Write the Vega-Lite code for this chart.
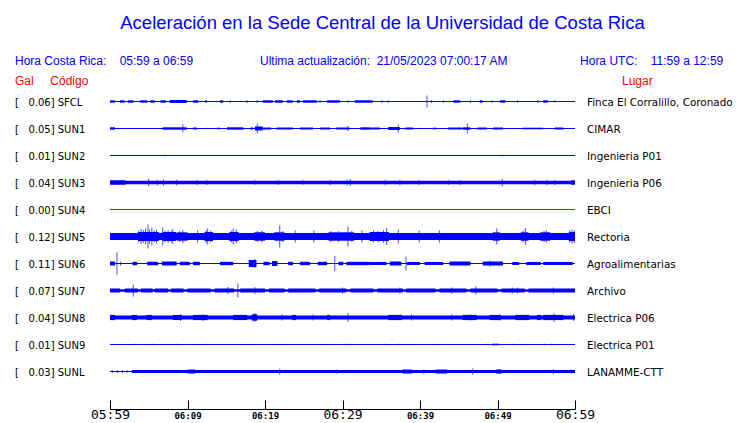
{
  "$schema": "https://vega.github.io/schema/vega-lite/v6.json",
  "width": 465,
  "height": 351,
  "autosize": "none",
  "padding": {"left": 110, "top": 34, "right": 165, "bottom": 38},
  "config": {"view": {"stroke": null}, "axisY": {"disable": true}},
  "title": {"text": "Aceleración en la Sede Central de la Universidad de Costa Rica", "font": "Liberation Sans", "fontSize": 18.5, "fontWeight": "normal", "color": "#0000ff", "anchor": "middle", "frame": "group", "dx": 40, "baseline": "alphabetic", "offset": -13},
  "datasets": {
    "stations": [
      {"s": "SFCL", "lab": "[\u00a0\u00a0\u00a00.06]\u00a0SFCL", "lugar": "Finca El Corralillo, Coronado"},
      {"s": "SUN1", "lab": "[\u00a0\u00a0\u00a00.05]\u00a0SUN1", "lugar": "CIMAR"},
      {"s": "SUN2", "lab": "[\u00a0\u00a0\u00a00.01]\u00a0SUN2", "lugar": "Ingenieria P01"},
      {"s": "SUN3", "lab": "[\u00a0\u00a0\u00a00.04]\u00a0SUN3", "lugar": "Ingenieria P06"},
      {"s": "SUN4", "lab": "[\u00a0\u00a0\u00a00.00]\u00a0SUN4", "lugar": "EBCI"},
      {"s": "SUN5", "lab": "[\u00a0\u00a0\u00a00.12]\u00a0SUN5", "lugar": "Rectoria"},
      {"s": "SUN6", "lab": "[\u00a0\u00a0\u00a00.11]\u00a0SUN6", "lugar": "Agroalimentarias"},
      {"s": "SUN7", "lab": "[\u00a0\u00a0\u00a00.07]\u00a0SUN7", "lugar": "Archivo"},
      {"s": "SUN8", "lab": "[\u00a0\u00a0\u00a00.04]\u00a0SUN8", "lugar": "Electrica P06"},
      {"s": "SUN9", "lab": "[\u00a0\u00a0\u00a00.01]\u00a0SUN9", "lugar": "Electrica P01"},
      {"s": "SUNL", "lab": "[\u00a0\u00a0\u00a00.03]\u00a0SUNL", "lugar": "LANAMME-CTT"}
    ],
    "bursts": [
      {"s":"SFCL","t":0,"t2":0.65,"a":0.012},{"s":"SFCL","t":1.3,"t2":1.9,"a":0.012},{"s":"SFCL","t":2.3,"t2":3.0,"a":0.012},{"s":"SFCL","t":3.9,"t2":4.8,"a":0.012},{"s":"SFCL","t":5.2,"t2":5.8,"a":0.012},{"s":"SFCL","t":6.5,"t2":7.2,"a":0.012},{"s":"SFCL","t":7.7,"t2":9.9,"a":0.015},{"s":"SFCL","t":10.7,"t2":11.4,"a":0.012},{"s":"SFCL","t":12.3,"t2":12.5,"a":0.012},{"s":"SFCL","t":14.2,"t2":14.6,"a":0.012},{"s":"SFCL","t":19.7,"t2":21.0,"a":0.012},{"s":"SFCL","t":21.3,"t2":22.3,"a":0.012},{"s":"SFCL","t":22.8,"t2":23.6,"a":0.012},{"s":"SFCL","t":24.1,"t2":24.5,"a":0.012},{"s":"SFCL","t":24.9,"t2":26.7,"a":0.012},{"s":"SFCL","t":28.0,"t2":29.7,"a":0.012},{"s":"SFCL","t":31.6,"t2":33.9,"a":0.012},{"s":"SFCL","t":44.3,"t2":45.2,"a":0.012},{"s":"SFCL","t":47.7,"t2":48.1,"a":0.012},{"s":"SFCL","t":50.3,"t2":51.0,"a":0.012},{"s":"SFCL","t":55.9,"t2":56.5,"a":0.012},
      {"s":"SUN1","t":0,"t2":0.65,"a":0.012},{"s":"SUN1","t":6.8,"t2":9.9,"a":0.012},{"s":"SUN1","t":10.7,"t2":11.2,"a":0.01},{"s":"SUN1","t":13.8,"t2":14.2,"a":0.008},{"s":"SUN1","t":15.1,"t2":17.2,"a":0.012},{"s":"SUN1","t":18.1,"t2":18.5,"a":0.01},{"s":"SUN1","t":18.7,"t2":19.7,"a":0.02},{"s":"SUN1","t":19.7,"t2":20.8,"a":0.01},{"s":"SUN1","t":21.5,"t2":23.6,"a":0.01},{"s":"SUN1","t":24.5,"t2":26.2,"a":0.01},{"s":"SUN1","t":27.1,"t2":28.4,"a":0.01},{"s":"SUN1","t":29.2,"t2":30.9,"a":0.01},{"s":"SUN1","t":32.3,"t2":33.5,"a":0.012},{"s":"SUN1","t":33.5,"t2":34.8,"a":0.01},{"s":"SUN1","t":35.9,"t2":37.4,"a":0.015},{"s":"SUN1","t":38.1,"t2":39.1,"a":0.01},{"s":"SUN1","t":41.7,"t2":42.2,"a":0.008},{"s":"SUN1","t":43.6,"t2":45.4,"a":0.01},{"s":"SUN1","t":45.5,"t2":46.5,"a":0.012},{"s":"SUN1","t":47.4,"t2":48.6,"a":0.01},{"s":"SUN1","t":49.4,"t2":50.7,"a":0.01},{"s":"SUN1","t":53.2,"t2":55.9,"a":0.008},{"s":"SUN1","t":57.4,"t2":58.5,"a":0.01},
      {"s":"SUN2","t":50.4,"t2":50.8,"a":0.006},
      {"s":"SUN3","t":0,"t2":60,"a":0.018},{"s":"SUN3","t":0,"t2":2,"a":0.022},{"s":"SUN3","t":59.5,"t2":60,"a":0.022},
      {"s":"SUN5","t":0,"t2":60,"a":0.035},{"s":"SUN5","t":3.6,"t2":6.3,"a":0.045},{"s":"SUN5","t":6.8,"t2":8.5,"a":0.045},{"s":"SUN5","t":8.6,"t2":10.0,"a":0.042},{"s":"SUN5","t":12.2,"t2":13.3,"a":0.045},{"s":"SUN5","t":15.4,"t2":16.6,"a":0.045},{"s":"SUN5","t":18.6,"t2":20.0,"a":0.042},{"s":"SUN5","t":21.2,"t2":22.5,"a":0.042},{"s":"SUN5","t":28.2,"t2":31.5,"a":0.042},{"s":"SUN5","t":33.5,"t2":36.0,"a":0.045},{"s":"SUN5","t":49.4,"t2":50.3,"a":0.042},{"s":"SUN5","t":53.0,"t2":54.0,"a":0.042},{"s":"SUN5","t":55.5,"t2":56.8,"a":0.042},{"s":"SUN5","t":59.2,"t2":60,"a":0.045},
      {"s":"SUN6","t":0,"t2":0.65,"a":0.02},{"s":"SUN6","t":1.3,"t2":1.4,"a":0.017},{"s":"SUN6","t":2.9,"t2":3.5,"a":0.017},{"s":"SUN6","t":4.8,"t2":6.2,"a":0.017},{"s":"SUN6","t":6.7,"t2":8.6,"a":0.02},{"s":"SUN6","t":9.0,"t2":10.3,"a":0.017},{"s":"SUN6","t":10.7,"t2":11.6,"a":0.017},{"s":"SUN6","t":14.2,"t2":15.9,"a":0.017},{"s":"SUN6","t":17.9,"t2":18.9,"a":0.035},{"s":"SUN6","t":19.8,"t2":20.6,"a":0.017},{"s":"SUN6","t":20.9,"t2":21.6,"a":0.025},{"s":"SUN6","t":23.0,"t2":23.6,"a":0.017},{"s":"SUN6","t":24.5,"t2":25.8,"a":0.017},{"s":"SUN6","t":26.8,"t2":28.0,"a":0.017},{"s":"SUN6","t":29.5,"t2":30.1,"a":0.017},{"s":"SUN6","t":30.5,"t2":33.5,"a":0.017},{"s":"SUN6","t":33.5,"t2":35.7,"a":0.015},{"s":"SUN6","t":36.1,"t2":37.6,"a":0.02},{"s":"SUN6","t":38.3,"t2":40.0,"a":0.015},{"s":"SUN6","t":40.6,"t2":43.0,"a":0.015},{"s":"SUN6","t":43.8,"t2":46.5,"a":0.02},{"s":"SUN6","t":48.1,"t2":50.7,"a":0.02},{"s":"SUN6","t":51.9,"t2":52.8,"a":0.015},{"s":"SUN6","t":53.7,"t2":55.6,"a":0.015},{"s":"SUN6","t":55.9,"t2":59.7,"a":0.015},
      {"s":"SUN7","t":0,"t2":60,"a":0.012},{"s":"SUN7","t":0,"t2":1.3,"a":0.02},{"s":"SUN7","t":1.9,"t2":3.6,"a":0.02},{"s":"SUN7","t":4.0,"t2":5.5,"a":0.02},{"s":"SUN7","t":5.8,"t2":7.5,"a":0.02},{"s":"SUN7","t":7.9,"t2":9.5,"a":0.02},{"s":"SUN7","t":10.0,"t2":13.0,"a":0.02},{"s":"SUN7","t":13.5,"t2":16.0,"a":0.02},{"s":"SUN7","t":16.8,"t2":20.0,"a":0.02},{"s":"SUN7","t":20.5,"t2":22.5,"a":0.02},{"s":"SUN7","t":23.0,"t2":26.5,"a":0.02},{"s":"SUN7","t":27.0,"t2":30.5,"a":0.02},{"s":"SUN7","t":31.0,"t2":34.0,"a":0.02},{"s":"SUN7","t":34.5,"t2":37.8,"a":0.02},{"s":"SUN7","t":38.2,"t2":42.0,"a":0.02},{"s":"SUN7","t":42.5,"t2":46.0,"a":0.02},{"s":"SUN7","t":46.5,"t2":50.0,"a":0.02},{"s":"SUN7","t":50.5,"t2":53.5,"a":0.02},{"s":"SUN7","t":54.0,"t2":60,"a":0.02},
      {"s":"SUN8","t":0,"t2":60,"a":0.02},{"s":"SUN8","t":0,"t2":0.65,"a":0.026},{"s":"SUN8","t":2.8,"t2":3.5,"a":0.026},{"s":"SUN8","t":4.7,"t2":5.4,"a":0.026},{"s":"SUN8","t":8.1,"t2":9.3,"a":0.026},{"s":"SUN8","t":10.7,"t2":12.6,"a":0.026},{"s":"SUN8","t":15.9,"t2":17.7,"a":0.026},{"s":"SUN8","t":18.3,"t2":19.0,"a":0.032},{"s":"SUN8","t":23.5,"t2":24.0,"a":0.026},{"s":"SUN8","t":28.0,"t2":28.4,"a":0.026},{"s":"SUN8","t":35.9,"t2":37.7,"a":0.026},{"s":"SUN8","t":45.5,"t2":47.3,"a":0.026},{"s":"SUN8","t":49.0,"t2":50.4,"a":0.026},{"s":"SUN8","t":52.3,"t2":54.1,"a":0.026},{"s":"SUN8","t":55.1,"t2":55.6,"a":0.026},{"s":"SUN8","t":55.9,"t2":58.5,"a":0.026},
      {"s":"SUN9","t":49.3,"t2":50.2,"a":0.008},
      {"s":"SUNL","t":2.8,"t2":60,"a":0.015},{"s":"SUNL","t":10.0,"t2":11.0,"a":0.02},{"s":"SUNL","t":37.8,"t2":39.0,"a":0.02},{"s":"SUNL","t":42.0,"t2":43.5,"a":0.02},{"s":"SUNL","t":49.8,"t2":50.5,"a":0.02}
    ],
    "spikes": [
      {"s":"SFCL","t":15.5,"a":0.016},{"s":"SFCL","t":17.7,"a":0.014},{"s":"SFCL","t":19.0,"a":0.014},{"s":"SFCL","t":27.1,"a":0.014},{"s":"SFCL","t":30.7,"a":0.014},{"s":"SFCL","t":35.1,"a":0.014},{"s":"SFCL","t":35.9,"a":0.014},{"s":"SFCL","t":40.9,"a":0.06},{"s":"SFCL","t":41.5,"a":0.014},{"s":"SFCL","t":43.0,"a":0.014},{"s":"SFCL","t":46.5,"a":0.014},{"s":"SFCL","t":49.3,"a":0.014},{"s":"SFCL","t":52.6,"a":0.014},{"s":"SFCL","t":55.2,"a":0.014},{"s":"SFCL","t":57.4,"a":0.014},
      {"s":"SUN1","t":2.8,"a":0.006},{"s":"SUN1","t":3.9,"a":0.006},{"s":"SUN1","t":5.2,"a":0.006},{"s":"SUN1","t":9.4,"a":0.04},{"s":"SUN1","t":12.5,"a":0.008},{"s":"SUN1","t":19.0,"a":0.05},{"s":"SUN1","t":30.7,"a":0.025},{"s":"SUN1","t":37.2,"a":0.04},{"s":"SUN1","t":40.0,"a":0.008},{"s":"SUN1","t":41.7,"a":0.008},{"s":"SUN1","t":46.1,"a":0.05},{"s":"SUN1","t":51.9,"a":0.008},
      {"s":"SUN2","t":5.0,"a":0.006},{"s":"SUN2","t":7.1,"a":0.007},{"s":"SUN2","t":30.7,"a":0.005},{"s":"SUN2","t":37.4,"a":0.006},{"s":"SUN2","t":46.2,"a":0.004},
      {"s":"SUN3","t":5.0,"a":0.04},{"s":"SUN3","t":6.1,"a":0.03},{"s":"SUN3","t":6.9,"a":0.03},{"s":"SUN3","t":8.6,"a":0.028},{"s":"SUN3","t":11.2,"a":0.025},{"s":"SUN3","t":12.5,"a":0.025},{"s":"SUN3","t":18.7,"a":0.022},{"s":"SUN3","t":21.7,"a":0.025},{"s":"SUN3","t":24.9,"a":0.022},{"s":"SUN3","t":28.4,"a":0.025},{"s":"SUN3","t":30.6,"a":0.03},{"s":"SUN3","t":31.0,"a":0.035},{"s":"SUN3","t":35.5,"a":0.028},{"s":"SUN3","t":37.4,"a":0.028},{"s":"SUN3","t":39.9,"a":0.025},{"s":"SUN3","t":43.7,"a":0.022},{"s":"SUN3","t":45.2,"a":0.025},{"s":"SUN3","t":50.6,"a":0.04},{"s":"SUN3","t":54.8,"a":0.028},{"s":"SUN3","t":56.4,"a":0.028},{"s":"SUN3","t":57.4,"a":0.025},
      {"s":"SUN5","t":3.7,"a":0.06},{"s":"SUN5","t":4.0,"a":0.075},{"s":"SUN5","t":4.3,"a":0.065},{"s":"SUN5","t":4.6,"a":0.08},{"s":"SUN5","t":4.9,"a":0.12},{"s":"SUN5","t":5.1,"a":0.07},{"s":"SUN5","t":5.4,"a":0.09},{"s":"SUN5","t":5.7,"a":0.06},{"s":"SUN5","t":6.0,"a":0.07},{"s":"SUN5","t":6.8,"a":0.09},{"s":"SUN5","t":7.1,"a":0.06},{"s":"SUN5","t":7.5,"a":0.065},{"s":"SUN5","t":7.9,"a":0.06},{"s":"SUN5","t":8.1,"a":0.075},{"s":"SUN5","t":9.0,"a":0.055},{"s":"SUN5","t":9.4,"a":0.065},{"s":"SUN5","t":11.3,"a":0.06},{"s":"SUN5","t":12.4,"a":0.065},{"s":"SUN5","t":12.6,"a":0.08},{"s":"SUN5","t":13.0,"a":0.06},{"s":"SUN5","t":15.7,"a":0.06},{"s":"SUN5","t":15.9,"a":0.08},{"s":"SUN5","t":16.3,"a":0.07},{"s":"SUN5","t":19.0,"a":0.055},{"s":"SUN5","t":19.6,"a":0.06},{"s":"SUN5","t":21.9,"a":0.11},{"s":"SUN5","t":22.3,"a":0.055},{"s":"SUN5","t":23.9,"a":0.06},{"s":"SUN5","t":26.3,"a":0.06},{"s":"SUN5","t":28.5,"a":0.055},{"s":"SUN5","t":29.5,"a":0.055},{"s":"SUN5","t":30.7,"a":0.1},{"s":"SUN5","t":31.2,"a":0.055},{"s":"SUN5","t":32.5,"a":0.06},{"s":"SUN5","t":34.0,"a":0.06},{"s":"SUN5","t":34.6,"a":0.055},{"s":"SUN5","t":35.3,"a":0.065},{"s":"SUN5","t":35.7,"a":0.085},{"s":"SUN5","t":37.2,"a":0.07},{"s":"SUN5","t":39.9,"a":0.06},{"s":"SUN5","t":42.5,"a":0.06},{"s":"SUN5","t":49.9,"a":0.08},{"s":"SUN5","t":53.3,"a":0.06},{"s":"SUN5","t":53.6,"a":0.085},{"s":"SUN5","t":56.0,"a":0.055},{"s":"SUN5","t":56.3,"a":0.06},{"s":"SUN5","t":59.3,"a":0.06},{"s":"SUN5","t":59.6,"a":0.07},{"s":"SUN5","t":59.9,"a":0.065},
      {"s":"SUN6","t":0.9,"a":0.11},{"s":"SUN6","t":18.7,"a":0.045},{"s":"SUN6","t":29.0,"a":0.075},{"s":"SUN6","t":38.2,"a":0.07},{"s":"SUN6","t":49.0,"a":0.03},
      {"s":"SUN7","t":3.0,"a":0.06},{"s":"SUN7","t":15.2,"a":0.035},{"s":"SUN7","t":16.5,"a":0.07},{"s":"SUN7","t":18.7,"a":0.035},{"s":"SUN7","t":30.0,"a":0.03},{"s":"SUN7","t":37.4,"a":0.03},{"s":"SUN7","t":44.1,"a":0.03},{"s":"SUN7","t":47.2,"a":0.04},{"s":"SUN7","t":51.9,"a":0.03},{"s":"SUN7","t":52.6,"a":0.028},{"s":"SUN7","t":57.2,"a":0.03},
      {"s":"SUN8","t":9.1,"a":0.035},{"s":"SUN8","t":12.0,"a":0.035},{"s":"SUN8","t":18.7,"a":0.045},{"s":"SUN8","t":22.2,"a":0.03},{"s":"SUN8","t":26.2,"a":0.03},{"s":"SUN8","t":30.7,"a":0.045},{"s":"SUN8","t":38.9,"a":0.03},{"s":"SUN8","t":44.1,"a":0.03},{"s":"SUN8","t":46.5,"a":0.03},{"s":"SUN8","t":50.3,"a":0.03},{"s":"SUN8","t":57.3,"a":0.045},{"s":"SUN8","t":59.8,"a":0.035},
      {"s":"SUN9","t":3.2,"a":0.008},{"s":"SUN9","t":5.0,"a":0.008},{"s":"SUN9","t":5.5,"a":0.008},{"s":"SUN9","t":7.1,"a":0.008},{"s":"SUN9","t":8.1,"a":0.008},{"s":"SUN9","t":8.6,"a":0.008},{"s":"SUN9","t":11.2,"a":0.008},{"s":"SUN9","t":12.6,"a":0.008},{"s":"SUN9","t":17.4,"a":0.008},{"s":"SUN9","t":18.1,"a":0.008},{"s":"SUN9","t":21.5,"a":0.008},{"s":"SUN9","t":22.2,"a":0.008},{"s":"SUN9","t":28.1,"a":0.008},{"s":"SUN9","t":30.6,"a":0.008},{"s":"SUN9","t":31.0,"a":0.008},{"s":"SUN9","t":35.5,"a":0.008},{"s":"SUN9","t":37.3,"a":0.008},{"s":"SUN9","t":37.8,"a":0.008},{"s":"SUN9","t":39.1,"a":0.008},{"s":"SUN9","t":42.3,"a":0.008},{"s":"SUN9","t":48.7,"a":0.008},{"s":"SUN9","t":52.0,"a":0.008},{"s":"SUN9","t":53.3,"a":0.008},{"s":"SUN9","t":56.1,"a":0.008},{"s":"SUN9","t":57.0,"a":0.008},
      {"s":"SUNL","t":0.3,"a":0.015},{"s":"SUNL","t":1.0,"a":0.015},{"s":"SUNL","t":1.6,"a":0.015},{"s":"SUNL","t":2.2,"a":0.015},{"s":"SUNL","t":21.9,"a":0.03},{"s":"SUNL","t":29.3,"a":0.022},{"s":"SUNL","t":37.8,"a":0.022},{"s":"SUNL","t":40.5,"a":0.022},{"s":"SUNL","t":46.8,"a":0.03},{"s":"SUNL","t":50.3,"a":0.025},{"s":"SUNL","t":57.2,"a":0.025},{"s":"SUNL","t":59.5,"a":0.02}
    ]
  },
  "layer": [
    {
      "data": {"name": "stations"},
      "mark": {"type": "rule", "strokeWidth": 1},
      "encoding": {
        "x": {"datum": 0, "type": "quantitative", "scale": {"domain": [0, 60]},
          "title": null,
          "axis": {
            "values": [0, 5, 10, 15, 20, 25, 30, 35, 40, 45, 50, 55, 60],
            "grid": false, "domainColor": "black", "tickColor": "black", "tickSize": -9,
            "offset": 24, "labelPadding": 18, "labelBaseline": "alphabetic",
            "labelColor": "black", "labelFont": "DejaVu Sans Mono",
            "labelFontSize": {"condition": {"test": "datum.value % 30 === 0", "value": 13}, "value": 9},
            "labelFontWeight": {"condition": {"test": "datum.value % 30 === 0", "value": "normal"}, "value": "bold"},
            "labelOverlap": false, "labelFlush": false,
            "labelExpr": "datum.value % 10 === 0 ? ('0' + (5 + floor((59 + datum.value) / 60)) + ':' + ((59 + datum.value) % 60 < 10 ? '0' : '') + ((59 + datum.value) % 60)) : ''"
          }},
        "x2": {"datum": 60},
        "y": {"field": "s", "type": "nominal", "axis": null,
          "scale": {"type": "point", "padding": 0.5, "domain": ["info", "head", "SFCL", "SUN1", "SUN2", "SUN3", "SUN4", "SUN5", "SUN6", "SUN7", "SUN8", "SUN9", "SUNL"]}},
        "color": {"condition": {"test": "datum.s === 'SUN4'", "value": "#ff0000"}, "value": "#0000ff"}
      }
    },
    {
      "data": {"name": "bursts"},
      "mark": {"type": "bar", "color": "#0000ff"},
      "encoding": {
        "x": {"field": "t", "type": "quantitative"},
        "x2": {"field": "t2"},
        "y": {"field": "s", "type": "nominal", "axis": null},
        "size": {"field": "a", "type": "quantitative", "legend": null, "scale": {"domain": [0, 0.12], "range": [0, 24]}}
      }
    },
    {
      "data": {"name": "spikes"},
      "mark": {"type": "tick", "color": "#0000ff", "thickness": 1, "orient": "vertical"},
      "encoding": {
        "x": {"field": "t", "type": "quantitative"},
        "y": {"field": "s", "type": "nominal", "axis": null},
        "size": {"field": "a", "type": "quantitative", "legend": null, "scale": {"domain": [0, 0.12], "range": [0, 24]}}
      }
    },
    {
      "data": {"name": "stations"},
      "mark": {"type": "text", "align": "left", "baseline": "middle", "font": "DejaVu Sans", "fontSize": 10, "color": "black", "dy": 1},
      "encoding": {
        "x": {"datum": -12.26},
        "y": {"field": "s", "type": "nominal", "axis": null},
        "text": {"field": "lab"}
      }
    },
    {
      "data": {"name": "stations"},
      "mark": {"type": "text", "align": "left", "baseline": "middle", "font": "DejaVu Sans", "fontSize": 10.4, "color": "black", "dy": 1},
      "encoding": {
        "x": {"datum": 61.55},
        "y": {"field": "s", "type": "nominal", "axis": null},
        "text": {"field": "lugar"}
      }
    },
    {
      "data": {"values": [{}]},
      "mark": {"type": "text", "align": "left", "baseline": "alphabetic", "font": "Liberation Sans", "fontSize": 12, "color": "#0000ff", "dy": 17.5},
      "encoding": {"x": {"datum": -12.26}, "y": {"datum": "info"}, "text": {"value": "Hora Costa Rica:\u00a0\u00a0\u00a0\u00a005:59 a 06:59"}}
    },
    {
      "data": {"values": [{}]},
      "mark": {"type": "text", "align": "left", "baseline": "alphabetic", "font": "Liberation Sans", "fontSize": 12, "color": "#0000ff", "dy": 17.5},
      "encoding": {"x": {"datum": 19.35}, "y": {"datum": "info"}, "text": {"value": "Ultima actualización:\u00a0\u00a021/05/2023 07:00:17 AM"}}
    },
    {
      "data": {"values": [{}]},
      "mark": {"type": "text", "align": "left", "baseline": "alphabetic", "font": "Liberation Sans", "fontSize": 12, "color": "#0000ff", "dy": 17.5},
      "encoding": {"x": {"datum": 60.65}, "y": {"datum": "info"}, "text": {"value": "Hora UTC:\u00a0\u00a0\u00a0\u00a011:59 a 12:59"}}
    },
    {
      "data": {"values": [{}]},
      "mark": {"type": "text", "align": "left", "baseline": "alphabetic", "font": "Liberation Sans", "fontSize": 12, "color": "#ff0000", "dy": 10.5},
      "encoding": {"x": {"datum": -12.26}, "y": {"datum": "head"}, "text": {"value": "Gal\u00a0\u00a0\u00a0\u00a0\u00a0Código"}}
    },
    {
      "data": {"values": [{}]},
      "mark": {"type": "text", "align": "left", "baseline": "alphabetic", "font": "Liberation Sans", "fontSize": 12, "color": "#ff0000", "dy": 10.5},
      "encoding": {"x": {"datum": 66.06}, "y": {"datum": "head"}, "text": {"value": "Lugar"}}
    }
  ]
}
